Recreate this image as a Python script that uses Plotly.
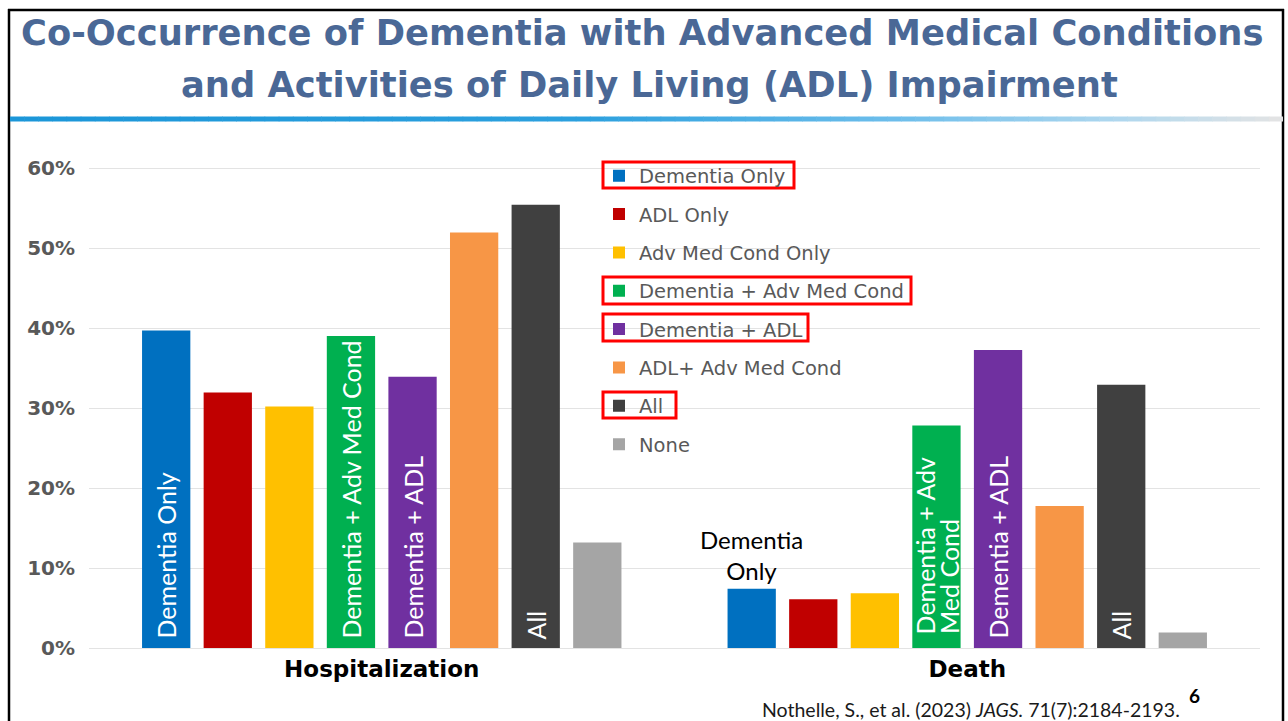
import plotly.graph_objects as go

# ---------------- data ----------------
categories = ["Hospitalization", "Death"]
series_names = ["Dementia Only", "ADL Only", "Adv Med Cond Only", "Dementia + Adv Med Cond",
                "Dementia + ADL", "ADL+ Adv Med Cond", "All", "None"]
series_colors = ["#0070C0", "#C00000", "#FFC000", "#00B050", "#7030A0", "#F79646", "#404040", "#A5A5A5"]
hospitalization_pct = [39.7, 31.95, 30.2, 39.0, 33.9, 51.95, 55.4, 13.2]
death_pct = [7.4, 6.1, 6.85, 27.8, 37.25, 17.75, 32.9, 1.95]
hosp_bar_labels = ["Dementia Only", "", "", "Dementia + Adv Med Cond", "Dementia + ADL", "", "All", ""]
death_bar_labels = ["", "", "", "", "Dementia + ADL", "", "All", ""]
death_outside_label = "Dementia<br>Only"
death_green_lines = ["Dementia + Adv", "Med Cond"]
y_tick_values = [0, 10, 20, 30, 40, 50, 60]
y_tick_labels = ["0%", "10%", "20%", "30%", "40%", "50%", "60%"]
highlighted = ["Dementia Only", "Dementia + Adv Med Cond", "Dementia + ADL", "All"]
title_lines = ["Co-Occurrence of Dementia with Advanced Medical Conditions",
               "and Activities of Daily Living (ADL) Impairment"]
citation = "Nothelle, S., et al. (2023) <i>JAGS.</i> 71(7):2184-2193."
page_number = "6"

# ---------------- geometry helpers (page pixel coords -> paper) ----------------
OFF = 0                      # body margin removed below
W, H = 1288, 721
ML, MR, MT, MB = 89, 28, 128, 73
YMAX = 65
PW = W - ML - MR
PH = H - MT - MB
BARGAP = 0.1585
BARGROUPGAP = 0.216


def xp(px):
    return (px - OFF - ML) / PW


def yp(py):
    return (H - MB - (py - OFF)) / PH


n = len(series_names)
slot = (1 - BARGAP) / n


def bar_pos(cat_index, series_index):
    return cat_index + (series_index - (n - 1) / 2) * slot


fig = go.Figure()
for i, name in enumerate(series_names):
    fig.add_trace(go.Bar(
        name=name,
        x=categories,
        y=[hospitalization_pct[i], death_pct[i]],
        marker=dict(color=series_colors[i], line=dict(width=0)),
        text=[("\u00a0" + hosp_bar_labels[i]) if hosp_bar_labels[i] else "",
              ("\u00a0" + death_bar_labels[i]) if death_bar_labels[i] else ""],
        textposition="inside",
        insidetextanchor="start",
        textangle=-90,
        textfont=dict(family="Lato", size=25, color="white"),
        legendgroup=name,
        hoverinfo="skip",
    ))

TITLE_FONT = dict(family="DejaVu Sans", size=35.3, color="#4A6896", weight="bold")
annotations = []
annotations.append(dict(text=title_lines[0], x=xp(642), y=yp(32), xref="paper", yref="paper",
                        showarrow=False, xanchor="center", yanchor="middle", font=TITLE_FONT))
annotations.append(dict(text=title_lines[1], x=xp(649), y=yp(84), xref="paper", yref="paper",
                        showarrow=False, xanchor="center", yanchor="middle", font=TITLE_FONT))
# Death: Dementia Only label above bar
annotations.append(dict(text=death_outside_label, x=bar_pos(1, 0), y=death_pct[0], xref="x", yref="y",
                        showarrow=False, xanchor="center", yanchor="bottom", yshift=2,
                        font=dict(family="Lato", size=24, color="black")))
# Death: two-line label in green bar
for k, line in enumerate(death_green_lines):
    annotations.append(dict(text=line, x=bar_pos(1, 3), y=0, xref="x", yref="y",
                            showarrow=False, textangle=-90, xanchor="center", yanchor="bottom",
                            xshift=-11 + 23 * k, yshift=12,
                            font=dict(family="Lato", size=25, color="white")))
# citation and page number
annotations.append(dict(text=citation, x=xp(971), y=yp(709), xref="paper", yref="paper",
                        showarrow=False, xanchor="center", yanchor="middle",
                        font=dict(family="Lato", size=19.5, color="#1A1A1A")))
annotations.append(dict(text=page_number, x=xp(1194), y=yp(695), xref="paper", yref="paper",
                        showarrow=False, xanchor="center", yanchor="middle",
                        font=dict(family="Lato", size=19, color="black", weight="bold")))

shapes = []
RIGHT_EDGE = 1283
# slide borders
shapes.append(dict(type="line", xref="paper", yref="paper", x0=xp(9), x1=xp(9), y0=yp(9), y1=yp(740),
                   line=dict(color="black", width=2.5)))
shapes.append(dict(type="line", xref="paper", yref="paper", x0=xp(RIGHT_EDGE), x1=xp(RIGHT_EDGE),
                   y0=yp(9), y1=yp(740), line=dict(color="black", width=2.5)))
shapes.append(dict(type="line", xref="paper", yref="paper", x0=xp(8), x1=xp(RIGHT_EDGE + 1), y0=yp(10), y1=yp(10),
                   line=dict(color="black", width=2.5)))
# gradient rule under the title
stops = [(0.0, (27, 150, 216)), (0.45, (44, 160, 222)), (0.7, (110, 190, 235)),
         (0.87, (175, 215, 238)), (1.0, (228, 228, 228))]


def grad(t):
    for (t0, c0), (t1, c1) in zip(stops[:-1], stops[1:]):
        if t0 <= t <= t1:
            f = (t - t0) / (t1 - t0)
            return "rgb(%d,%d,%d)" % tuple(round(a + (b - a) * f) for a, b in zip(c0, c1))
    return "rgb(228,228,228)"


NSEG = 90
gx0, gx1 = 10, RIGHT_EDGE
for s in range(NSEG):
    a = gx0 + (gx1 - gx0) * s / NSEG
    b = gx0 + (gx1 - gx0) * (s + 1) / NSEG + 0.6
    shapes.append(dict(type="rect", xref="paper", yref="paper", x0=xp(a), x1=xp(min(b, gx1)),
                       y0=yp(121.5), y1=yp(116.5),
                       fillcolor=grad((s + 0.5) / NSEG), line=dict(width=0), layer="above"))
# white area behind the legend (hides gridlines)
shapes.append(dict(type="rect", xref="paper", yref="paper", x0=xp(575), x1=xp(912), y0=yp(150), y1=yp(462),
                   fillcolor="white", line=dict(width=0), layer="between"))
# red highlight boxes in legend
red_boxes = {"Dementia Only": (603, 794, 162, 188),
             "Dementia + Adv Med Cond": (603, 911, 277, 304),
             "Dementia + ADL": (603, 808, 314, 341),
             "All": (603, 676, 392, 418)}
for name in highlighted:
    x0, x1, y0, y1 = red_boxes[name]
    shapes.append(dict(type="rect", xref="paper", yref="paper", x0=xp(x0), x1=xp(x1), y0=yp(y0), y1=yp(y1),
                       line=dict(color="#FF0000", width=3), fillcolor="rgba(0,0,0,0)", layer="above"))

fig.update_layout(
    width=W, height=H,
    margin=dict(l=ML, r=MR, t=MT, b=MB, pad=0),
    paper_bgcolor="white", plot_bgcolor="white",
    barmode="group", bargap=BARGAP, bargroupgap=BARGROUPGAP,
    showlegend=True,
    legend=dict(x=xp(599), y=yp(156.5), xanchor="left", yanchor="top",
                font=dict(family="DejaVu Sans", size=19.5, color="#595959"),
                bgcolor="rgba(0,0,0,0)", tracegroupgap=10, traceorder="grouped"),
    xaxis=dict(type="category", range=[-0.5, 1.5], showgrid=False, showline=False, ticks="",
               ticklabelstandoff=5,
               tickfont=dict(family="DejaVu Sans", size=23, color="black", weight="bold")),
    yaxis=dict(range=[0, YMAX], tickvals=y_tick_values, ticktext=y_tick_labels, showgrid=True,
               gridcolor="#E3E3E3", gridwidth=1, zeroline=True, zerolinecolor="#E3E3E3", zerolinewidth=1,
               showline=False, ticks="", ticklabelstandoff=13,
               tickfont=dict(family="DejaVu Sans", size=20, color="#595959", weight="bold")),
    annotations=annotations,
    shapes=shapes,
    font=dict(family="Lato"),
)

fig.write_html("out.html",
               config={"displayModeBar": False},
               post_script="document.body.style.margin='0';document.body.style.overflow='hidden';")
